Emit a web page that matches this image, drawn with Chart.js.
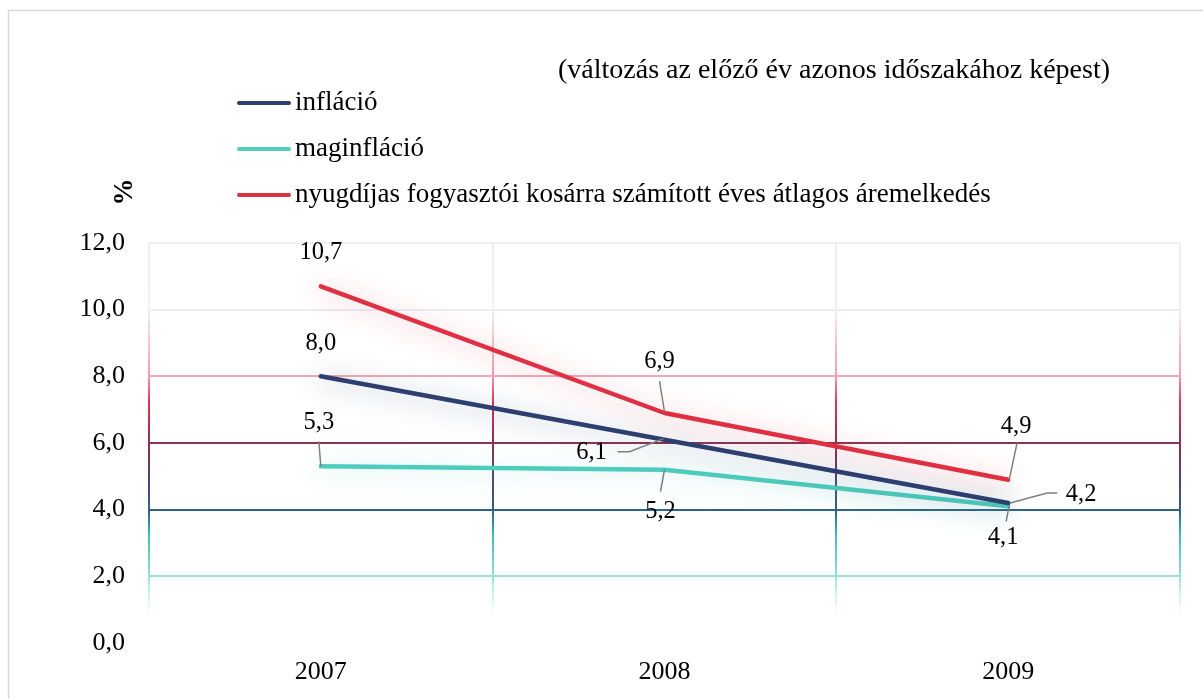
<!DOCTYPE html>
<html>
<head>
<meta charset="utf-8">
<script src="https://cdn.jsdelivr.net/npm/chart.js@4/dist/chart.umd.min.js"></script>
<style>
  html, body { margin: 0; padding: 0; background: #fff; }
  #wrap { width: 1203px; height: 699px; position: relative; }
</style>
</head>
<body>
<div id="wrap"><canvas id="inflChart" width="1203" height="699"></canvas></div>
<script>
// data
const years = ['2007', '2008', '2009'];
const inflacio = [8.0, 6.1, 4.2];
const maginflacio = [5.3, 5.2, 4.1];
const nyugdijas = [10.7, 6.9, 4.9];
const yTicks = [0, 2, 4, 6, 8, 10, 12];
const seriesNames = ['infláció', 'maginfláció', 'nyugdíjas fogyasztói kosárra számított éves átlagos áremelkedés'];
const subtitle = '(változás az előző év azonos időszakához képest)';
const yTitle = '%';

const FONT = "'Liberation Serif', 'Times New Roman', serif";
const colors = ['#2c3f6e', '#4ecdbd', '#e03043'];
const glows = ['rgba(44,63,110,0.45)', 'rgba(78,205,189,0.45)', 'rgba(224,48,67,0.45)'];

// horizontal grid colours per tick value
const hGridColors = { 0: 'rgba(0,0,0,0)', 2: '#94e2d8', 4: '#2f6485', 6: '#8c3556', 8: '#f4a7b4', 10: '#eeebf7', 12: '#efedf8' };
// vertical grid gradient stops (value, colour)
const vGridStops = [
  [12, '#efedf8'], [10, '#f3eef6'], [9, '#f5c3cc'], [8, '#f29aa9'], [7.2, '#e03450'],
  [6, '#8c2f54'], [5, '#5b3e6e'], [4, '#2e5f82'], [3.2, '#3fc2b6'], [2, '#93e2d8'],
  [1.2, 'rgba(200,240,235,0.5)'], [0.6, 'rgba(255,255,255,0)'], [0, 'rgba(255,255,255,0)']
];

// label placement relative to each point: [dx, dy, leader points]
const labelLayout = [
  [[0, -33, null], [-73, 13, [[-1, -1], [-35, 12], [-47, 12]]], [73, -8, [[2, 0], [39, -10], [49, -10]]]],
  [[-2, -44, [[0, 0], [-2, -25]]], [-4, 42, [[0, 0], [-4, 22]]], [-5, 31, [[1, -1], [-2, 15]]]],
  [[0, -34, null], [-5, -51, [[0, -1], [-5, -32]]], [8, -53, [[1, 0], [9, -37]]]]
];

function vGradient(chart) {
  const y = chart.scales.y;
  if (!chart.chartArea || !y) return '#ddd';
  const top = y.getPixelForValue(12), bot = y.getPixelForValue(0);
  const g = chart.ctx.createLinearGradient(0, top, 0, bot);
  vGridStops.forEach(([v, c]) => g.addColorStop((12 - v) / 12, c));
  return g;
}

const glowPlugin = {
  id: 'glow',
  beforeDatasetDraw(chart, args) {
    const ctx = chart.ctx;
    ctx.save();
    ctx.shadowColor = glows[args.index];
    ctx.shadowBlur = 26;
    ctx.shadowOffsetY = 3;
  },
  afterDatasetDraw(chart) {
    chart.ctx.restore();
  }
};

const decorPlugin = {
  id: 'decor',
  beforeDraw(chart) {
    const ctx = chart.ctx;
    ctx.save();
    ctx.strokeStyle = '#d9d9d9';
    ctx.lineWidth = 1.5;
    ctx.strokeRect(8.5, 10.5, 1400, 900);
    ctx.restore();
  },
  afterDraw(chart) {
    const ctx = chart.ctx;
    ctx.save();
    ctx.fillStyle = '#000';
    ctx.font = '28px ' + FONT;
    ctx.textBaseline = 'middle';
    ctx.textAlign = 'right';
    ctx.fillText(subtitle, 1110, 71);

    // legend
    const rows = [103, 149, 195];
    ctx.font = '27px ' + FONT;
    ctx.textAlign = 'left';
    chart.data.datasets.forEach((ds, i) => {
      ctx.strokeStyle = ds.borderColor;
      ctx.lineWidth = 4;
      ctx.lineCap = 'round';
      ctx.beginPath();
      ctx.moveTo(239, rows[i]);
      ctx.lineTo(289, rows[i]);
      ctx.stroke();
      ctx.fillText(ds.label, 295, rows[i]);
    });

    // rotated % title
    ctx.translate(125, 192);
    ctx.rotate(-Math.PI / 2);
    ctx.textAlign = 'center';
    ctx.font = 'bold 27px ' + FONT;
    ctx.fillText(yTitle, 0, 0);
    ctx.restore();
  },
  afterDatasetsDraw(chart) {
    const ctx = chart.ctx;
    ctx.save();
    ctx.font = '24.5px ' + FONT;
    ctx.textAlign = 'center';
    ctx.textBaseline = 'middle';
    chart.data.datasets.forEach((ds, i) => {
      const meta = chart.getDatasetMeta(i);
      meta.data.forEach((pt, j) => {
        const [dx, dy, leader] = labelLayout[i][j];
        if (leader) {
          ctx.strokeStyle = '#7f7f7f';
          ctx.lineWidth = 1.5;
          ctx.beginPath();
          leader.forEach(([lx, ly], k) => {
            if (k === 0) ctx.moveTo(pt.x + lx, pt.y + ly);
            else ctx.lineTo(pt.x + lx, pt.y + ly);
          });
          ctx.stroke();
        }
        ctx.fillStyle = '#000';
        ctx.fillText(ds.data[j].toFixed(1).replace('.', ','), pt.x + dx, pt.y + dy);
      });
    });
    ctx.restore();
  }
};

const ctx = document.getElementById('inflChart').getContext('2d');
new Chart(ctx, {
  type: 'line',
  data: {
    labels: years,
    datasets: [inflacio, maginflacio, nyugdijas].map((values, i) => ({
      label: seriesNames[i],
      data: values,
      borderColor: colors[i],
      backgroundColor: colors[i],
      borderWidth: 4.5,
      borderCapStyle: 'round',
      borderJoinStyle: 'round',
      pointRadius: 0,
      tension: 0,
      fill: false
    }))
  },
  options: {
    responsive: false,
    animation: false,
    devicePixelRatio: 1,
    layout: { padding: { top: 243, right: 23, bottom: 0, left: 0 } },
    plugins: {
      legend: { display: false },
      tooltip: { enabled: false }
    },
    scales: {
      x: {
        offset: true,
        afterFit: (scale) => { scale.height = 56; },
        grid: {
          offset: true,
          drawTicks: false,
          lineWidth: 2,
          color: (c) => vGradient(c.chart)
        },
        border: { display: false },
        ticks: { color: '#000', padding: 14, font: { family: FONT, size: 26 } }
      },
      y: {
        min: 0,
        max: 12,
        afterFit: (scale) => { scale.width = 149; },
        afterBuildTicks: (scale) => { scale.ticks = yTicks.map((v) => ({ value: v })); },
        grid: {
          drawTicks: false,
          lineWidth: 2,
          color: (c) => hGridColors[c.tick.value] || '#eee'
        },
        border: { display: false },
        ticks: {
          color: '#000',
          padding: 24,
          font: { family: FONT, size: 26 },
          callback: (v) => Number(v).toFixed(1).replace('.', ',')
        }
      }
    }
  },
  plugins: [glowPlugin, decorPlugin]
});
</script>
</body>
</html>
